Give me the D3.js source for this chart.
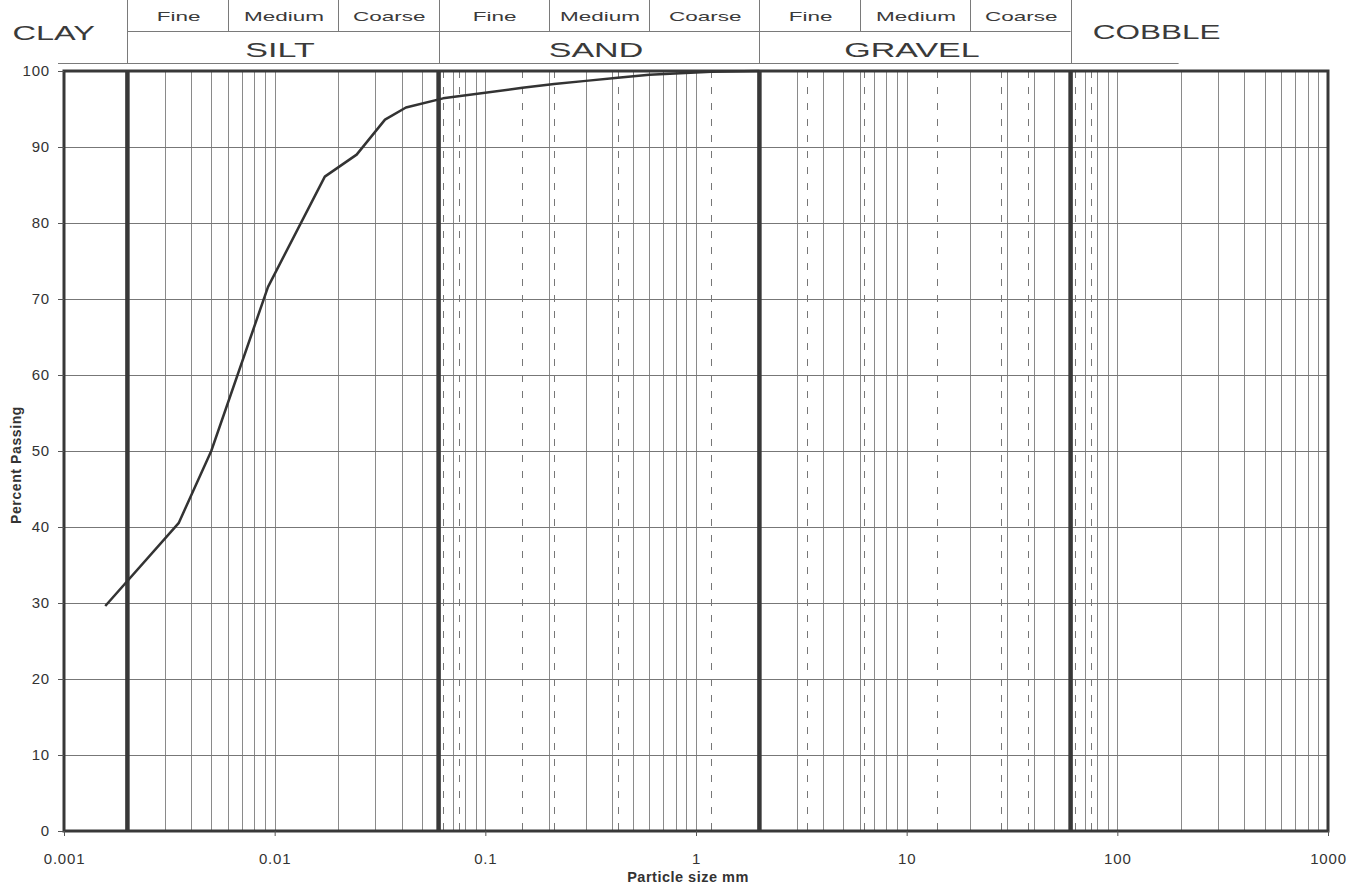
<!DOCTYPE html>
<html>
<head>
<meta charset="utf-8">
<script src="https://cdn.jsdelivr.net/npm/d3@7"></script>
<style>
  html, body { margin: 0; padding: 0; background: #fff; }
  #chart { width: 1367px; height: 888px; }
  text { font-family: "Liberation Sans", Arial, sans-serif; fill: #333; }
</style>
</head>
<body>
<div id="chart"></div>
<script>
// grading curve (particle size mm -> percent passing)
var sizes   = [0.00157, 0.0035, 0.005, 0.0093, 0.0173, 0.0245, 0.0334, 0.042, 0.063, 0.15, 0.212, 0.3, 0.425, 0.6, 1.18, 2];
var passing = [29.6, 40.5, 50.0, 71.6, 86.1, 89.0, 93.6, 95.2, 96.4, 97.8, 98.3, 98.7, 99.1, 99.5, 99.9, 100];

var xTicks = [0.001, 0.01, 0.1, 1, 10, 100, 1000];
var xTickLabels = ["0.001", "0.01", "0.1", "1", "10", "100", "1000"];
var yTicks = [0, 10, 20, 30, 40, 50, 60, 70, 80, 90, 100];

// soil classes
var boundaries = [0.002, 0.06, 2, 60];
var subBounds = [0.006, 0.02, 0.2, 0.6, 6, 20];
var fractions = ["SILT", "SAND", "GRAVEL"];
var subNames = ["Fine", "Medium", "Coarse"];
var sieves = [0.063, 0.075, 0.15, 0.212, 0.425, 1.18, 3.35, 6.3, 14, 28, 37.5, 63, 75];

var chart = document.getElementById("chart"),
    width = 1367,
    height = 888,
    pL = 64, pR = 1328, pT = 71, pB = 831,
    svg;

var x = d3.scaleLog().domain([0.001, 1000]).range([pL, pR]);
var y = d3.scaleLinear().domain([0, 100]).range([pB, pT]);

svg = d3.select(chart)
  .append("svg")
  .attr("width", width)
  .attr("height", height);

// minor vertical grid (1..9 per decade)
var minor = x.ticks().filter(function(d) {
  return boundaries.every(function(b) { return Math.abs(b - d) / b > 1e-6; }) &&
         d > 0.0011 && d < 999;
});
svg.append("g").selectAll("line")
  .data(minor)
  .enter().append("line")
  .attr("x1", function(d) { return Math.round(x(d)) + 0.5; })
  .attr("x2", function(d) { return Math.round(x(d)) + 0.5; })
  .attr("y1", pT)
  .attr("y2", pB)
  .style("stroke", "#8a8a8a")
  .style("stroke-width", 1);

// sieve sizes as dashed lines
svg.append("g").selectAll("line")
  .data(sieves)
  .enter().append("line")
  .attr("x1", function(d) { return Math.round(x(d)) + 0.5; })
  .attr("x2", function(d) { return Math.round(x(d)) + 0.5; })
  .attr("y1", pT)
  .attr("y2", pB)
  .style("stroke", "#777")
  .style("stroke-width", 1)
  .style("stroke-dasharray", "7,9");

// horizontal grid
svg.append("g").selectAll("line")
  .data(yTicks.slice(1, -1))
  .enter().append("line")
  .attr("x1", pL)
  .attr("x2", pR)
  .attr("y1", function(d) { return Math.round(y(d)) + 0.5; })
  .attr("y2", function(d) { return Math.round(y(d)) + 0.5; })
  .style("stroke", "#777")
  .style("stroke-width", 1);

// class boundaries
svg.append("g").selectAll("line")
  .data(boundaries)
  .enter().append("line")
  .attr("x1", function(d) { return x(d); })
  .attr("x2", function(d) { return x(d); })
  .attr("y1", pT)
  .attr("y2", pB)
  .style("stroke", "#383838")
  .style("stroke-width", 4.5);

// frame
svg.append("rect")
  .attr("x", pL)
  .attr("y", pT)
  .attr("width", pR - pL)
  .attr("height", pB - pT)
  .style("fill", "none")
  .style("stroke", "#383838")
  .style("stroke-width", 3);

// curve
var pts = sizes.map(function(s, i) { return [s, passing[i]]; });
svg.append("path")
  .datum(pts)
  .attr("d", d3.line().x(function(d) { return x(d[0]); }).y(function(d) { return y(d[1]); }))
  .style("fill", "none")
  .style("stroke", "#333")
  .style("stroke-width", 2.5)
  .style("stroke-linejoin", "round");

// axes
var xAxis = svg.append("g")
  .attr("transform", "translate(0," + pB + ")")
  .call(d3.axisBottom(x).tickValues(xTicks)
    .tickFormat(function(d, i) { return xTickLabels[i]; })
    .tickSize(5).tickPadding(17));
var yAxis = svg.append("g")
  .attr("transform", "translate(" + pL + ",0)")
  .call(d3.axisLeft(y).tickValues(yTicks).tickSize(6).tickPadding(8));

[xAxis, yAxis].forEach(function(a) {
  a.select(".domain").remove();
  a.selectAll(".tick line").style("stroke", "#555");
  a.selectAll("text")
    .style("font-size", "15px")
    .style("letter-spacing", "0.8px")
    .style("font-family", "Liberation Sans, Arial, sans-serif")
    .attr("fill", "#333");
});

svg.append("text")
  .attr("x", 688)
  .attr("y", 882)
  .attr("text-anchor", "middle")
  .style("font-size", "14.5px")
  .style("font-weight", "bold")
  .style("letter-spacing", "0.5px")
  .text("Particle size mm");

svg.append("text")
  .attr("transform", "translate(21,465) rotate(-90)")
  .attr("text-anchor", "middle")
  .style("font-size", "14px")
  .style("font-weight", "bold")
  .style("letter-spacing", "0.6px")
  .text("Percent Passing");

// header table
var hdr = svg.append("g").style("stroke", "#7a7a7a").style("stroke-width", 1);
hdr.selectAll(".vb")
  .data(boundaries)
  .enter().append("line")
  .attr("x1", function(d) { return Math.round(x(d)) + 0.5; })
  .attr("x2", function(d) { return Math.round(x(d)) + 0.5; })
  .attr("y1", 0)
  .attr("y2", 63);
hdr.selectAll(".vs")
  .data(subBounds)
  .enter().append("line")
  .attr("x1", function(d) { return Math.round(x(d)) + 0.5; })
  .attr("x2", function(d) { return Math.round(x(d)) + 0.5; })
  .attr("y1", 0)
  .attr("y2", 31);
hdr.append("line")
  .attr("x1", x(boundaries[0])).attr("x2", x(boundaries[3]))
  .attr("y1", 31.5).attr("y2", 31.5);
hdr.append("line")
  .attr("x1", 58).attr("x2", x(boundaries[3]) + 108)
  .attr("y1", 63.5).attr("y2", 63.5);

// wide lettering, stretched horizontally
function wideText(cx, by, str, size, sx) {
  svg.append("text")
    .attr("transform", "translate(" + cx + "," + by + ") scale(" + sx + ",1)")
    .attr("text-anchor", "middle")
    .style("font-size", size + "px")
    .style("fill", "#3a3a3a")
    .text(str);
}

fractions.forEach(function(f, i) {
  var a = boundaries[i], b = boundaries[i + 1];
  var cells = [a, subBounds[i * 2], subBounds[i * 2 + 1], b];
  wideText((x(a) + x(b)) / 2 - 3, 57, f, 21, 1.62);
  subNames.forEach(function(s, j) {
    wideText((x(cells[j]) + x(cells[j + 1])) / 2 + 1, 21, s, 12.5, 1.8);
  });
});
wideText(x(boundaries[0]) / 2 - 10, 40, "CLAY", 21, 1.55);
wideText(x(boundaries[3]) + 86, 39, "COBBLE", 21, 1.5);
</script>
</body>
</html>
